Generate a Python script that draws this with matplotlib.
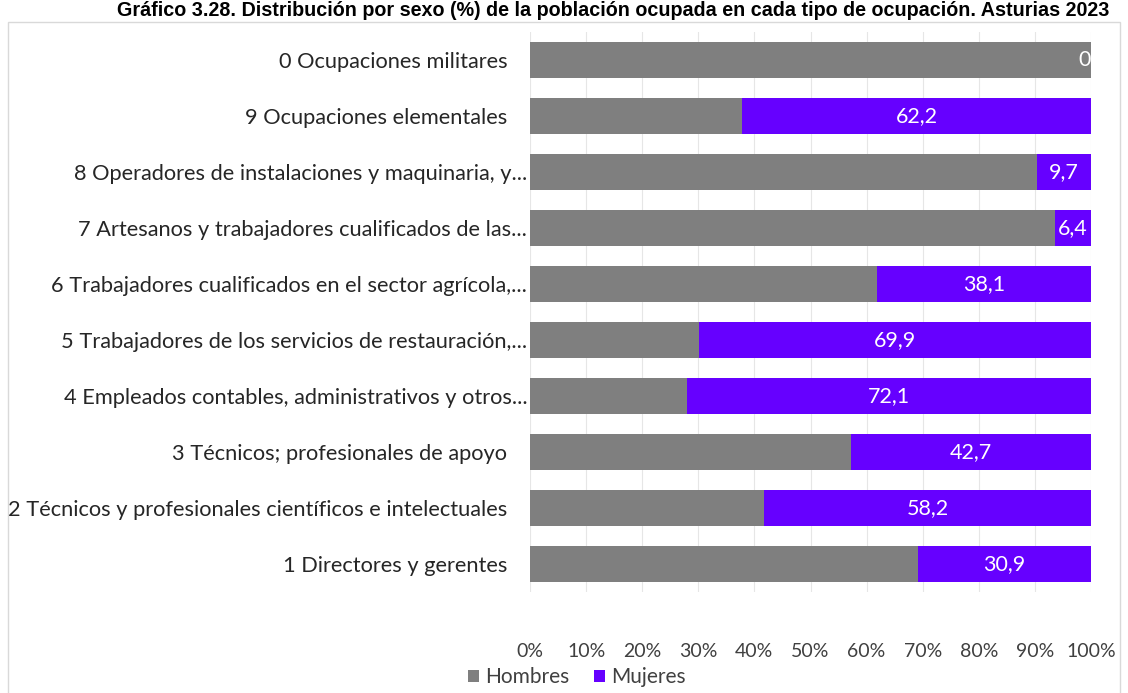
import matplotlib
matplotlib.use("Agg")
import matplotlib.pyplot as plt
import matplotlib.transforms as mtransforms
from matplotlib.patches import Rectangle

plt.rcParams['font.family'] = ['Lato', 'DejaVu Sans']

title = "Gráfico 3.28. Distribución por sexo (%) de la población ocupada en cada tipo de ocupación. Asturias 2023"
categories = [
    "1 Directores y gerentes",
    "2 Técnicos y profesionales científicos e intelectuales",
    "3 Técnicos; profesionales de apoyo",
    "4 Empleados contables, administrativos y otros...",
    "5 Trabajadores de los servicios de restauración,...",
    "6 Trabajadores cualificados en el sector agrícola,...",
    "7 Artesanos y trabajadores cualificados de las...",
    "8 Operadores de instalaciones y maquinaria, y...",
    "9 Ocupaciones elementales",
    "0 Ocupaciones militares",
]
mujeres = [30.9, 58.2, 42.7, 72.1, 69.9, 38.1, 6.4, 9.7, 62.2, 0.0]
hombres = [100 - m for m in mujeres]
mujeres_labels = ["30,9", "58,2", "42,7", "72,1", "69,9", "38,1", "6,4", "9,7", "62,2", "0"]
xticks = [0, 10, 20, 30, 40, 50, 60, 70, 80, 90, 100]
xticklabels = ["0%", "10%", "20%", "30%", "40%", "50%", "60%", "70%", "80%", "90%", "100%"]

gray = "#7f7f7f"
purple = "#6600ff"

fig = plt.figure(figsize=(11.28, 6.93), dpi=100)
ax = fig.add_axes([530/1128, 1 - 592/693, 561/1128, 560/693])

y = list(range(len(categories)))
ax.barh(y, hombres, height=0.65, color=gray, label="Hombres", zorder=2)
ax.barh(y, mujeres, left=hombres, height=0.65, color=purple, label="Mujeres", zorder=2)

for yi, h, m, lab in zip(y, hombres, mujeres, mujeres_labels):
    if m > 0:
        ax.text(h + m / 2, yi, lab, ha="center", va="center", color="white", fontsize=15.5, zorder=3)
    else:
        ax.text(100, yi, lab, ha="right", va="center", color="white", fontsize=15.5, zorder=3)

ax.set_xlim(0, 100)
ax.set_ylim(-0.5, len(categories) - 0.5)
ax.set_xticks(xticks)
ax.set_xticklabels(xticklabels, fontsize=14, color="#404040")
ax.set_yticks(y)
ax.set_yticklabels(categories, fontsize=15.7, color="#262626")
ax.tick_params(axis="both", length=0)
ax.tick_params(axis="x", pad=37)
ax.tick_params(axis="y", pad=2)

# labels not truncated have extra trailing gap
for lbl in ax.get_yticklabels():
    if not lbl.get_text().endswith("..."):
        lbl.set_transform(lbl.get_transform() + mtransforms.ScaledTranslation(-20/100, 0, fig.dpi_scale_trans))

ax.grid(axis="x", color="#e6e6e6", linewidth=0.8, zorder=0)
for s in ax.spines.values():
    s.set_visible(False)

leg = fig.legend(loc="center", bbox_to_anchor=(577/1128, 1 - 677/693), ncol=2, frameon=False,
                 fontsize=15, handlelength=0.5, handleheight=0.5, handletextpad=0.3, columnspacing=1.2)
for t in leg.get_texts():
    t.set_color("#404040")

fig.patches.append(Rectangle((8/1128, -0.01), 1112/1128, 1 - 22/693 + 0.01, transform=fig.transFigure,
                             fill=False, edgecolor="#d9d9d9", linewidth=1.0))

fig.text(613/1128, 1 - 16/693, title, ha="center", va="baseline", fontsize=14.2,
         fontweight="bold", family=["Liberation Sans", "DejaVu Sans"], color="black")

fig.savefig("out.png", dpi=100)
